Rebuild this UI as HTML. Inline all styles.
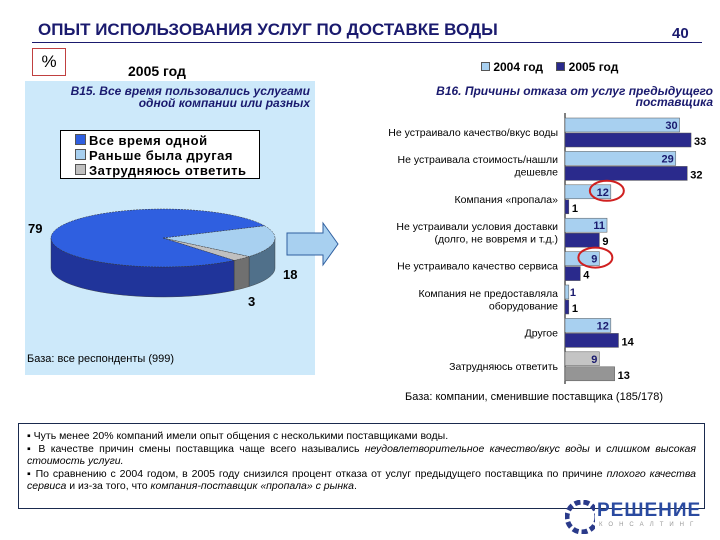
<!DOCTYPE html>
<html><head><meta charset="utf-8">
<style>
body{margin:0;width:720px;height:540px;background:#fff;overflow:hidden;font-family:"Liberation Sans",sans-serif;position:relative}
.abs{position:absolute}
</style></head><body>
<div class="abs" style="left:38px;top:20px;font-size:17px;font-weight:bold;color:#1a1a6e;">ОПЫТ ИСПОЛЬЗОВАНИЯ УСЛУГ ПО ДОСТАВКЕ ВОДЫ</div>
<div class="abs" style="left:672px;top:25px;font-size:15px;font-weight:bold;color:#1a1a6e;">40</div>
<div class="abs" style="left:32px;top:42px;width:670px;height:1px;background:#1a1a6e"></div>
<div class="abs" style="left:32px;top:48px;width:32px;height:26px;border:1px solid #c04040;font-size:17px;text-align:center;line-height:26px">%</div>
<div class="abs" style="left:128px;top:63px;font-size:14px;font-weight:bold">2005 год</div>
<div class="abs" style="left:25px;top:81px;width:290px;height:294px;background:#cde9fa"></div>
<div class="abs" style="left:30px;top:85px;width:280px;font-size:12px;font-weight:bold;font-style:italic;color:#1a1a6e;text-align:right;line-height:12px">В15. Все время пользовались услугами<br>одной компании или разных</div>
<div class="abs" style="left:60px;top:130px;width:200px;height:49px;background:#fff;border:1px solid #000;font-size:13px;font-weight:bold;line-height:15px;padding:2px 0 0 14px;box-sizing:border-box;letter-spacing:0.5px">
<div><span style="display:inline-block;width:9px;height:9px;background:#2f5fe0;border:1px solid #555;margin-right:3px"></span>Все время одной</div>
<div><span style="display:inline-block;width:9px;height:9px;background:#a8d0f0;border:1px solid #555;margin-right:3px"></span>Раньше была другая</div>
<div><span style="display:inline-block;width:9px;height:9px;background:#c0c0c0;border:1px solid #555;margin-right:3px"></span>Затрудняюсь ответить</div>
</div>
<div class="abs" style="left:27px;top:353px;font-size:11px">База: все респонденты (999)</div>

<svg class="abs" style="left:0;top:0" width="720" height="540">
<g id="pie"></g>
<polygon points="287,233 323,233 323,223 338,244 323,265 323,255 287,255" fill="#a8d0f0" stroke="#3060a0" stroke-width="1"/>
<g id="bars"></g>
</svg>

<div class="abs" style="left:481px;top:60px;font-size:12px;font-weight:bold">
<span style="display:inline-block;width:7px;height:7px;background:#a8d0f0;border:1px solid #555"></span> 2004 год &nbsp;&nbsp;&nbsp;<span style="display:inline-block;width:7px;height:7px;background:#2a2a8c;border:1px solid #555"></span> 2005 год</div>
<div class="abs" style="left:380px;top:86px;width:333px;font-size:12px;font-weight:bold;font-style:italic;color:#1a1a6e;text-align:right;line-height:11px">В16. Причины отказа от услуг предыдущего<br>поставщика</div>
<div class="abs" style="left:405px;top:391px;font-size:11px">База: компании, сменившие поставщика (185/178)</div>

<div class="abs" style="left:18px;top:423px;width:687px;height:86px;border:1px solid #1a2a4e;box-sizing:border-box;padding:6px 8px;font-size:10.5px;line-height:12.5px;text-align:justify">
▪ Чуть менее 20% компаний имели опыт общения с несколькими поставщиками воды.<br>
▪ В качестве причин смены поставщика чаще всего назывались <i>неудовлетворительное качество/вкус воды</i> и <i>слишком высокая стоимость услуги.</i><br>
▪ По сравнению с 2004 годом, в 2005 году снизился процент отказа от услуг предыдущего поставщика по причине <i>плохого качества сервиса</i> и из-за того, что <i>компания-поставщик «пропала» с рынка</i>.
</div>
<div class="abs" style="left:565px;top:500px;">
<svg width="30" height="34" style="position:absolute;left:0;top:0"><circle cx="17" cy="17" r="15" fill="none" stroke="#2a3a8a" stroke-width="5" stroke-dasharray="6 3"/></svg>
<div style="position:absolute;left:32px;top:0;font-size:19px;font-weight:bold;color:#2a4aa0;letter-spacing:1px">РЕШЕНИЕ</div>
<div style="position:absolute;left:34px;top:22px;font-size:6px;color:#999;letter-spacing:6px;white-space:nowrap">КОНСАЛТИНГ</div>
</div>

<script>
const pieLabels=["Все время одной","Раньше была другая","Затрудняюсь ответить"];
const pieValues=[79,18,3];
const categories=["Не устраивало качество/вкус воды","Не устраивала стоимость/нашли|дешевле","Компания «пропала»","Не устраивали условия доставки|(долго, не вовремя и т.д.)","Не устраивало качество сервиса","Компания не предоставляла|оборудование","Другое","Затрудняюсь ответить"];
const values2004=[30,29,12,11,9,1,12,9];
const values2005=[33,32,1,9,4,1,14,13];
const NS="http://www.w3.org/2000/svg";
function mk(t,a,p){const e=document.createElementNS(NS,t);for(const k in a)e.setAttribute(k,a[k]);p.appendChild(e);return e;}
// pie
const pg=document.getElementById('pie');
const cx=163,cy=238,rx=112,ry=29,dep=30;
const topC=["#2f5fe0","#a8d0f0","#c0c0c0"],sideC=["#20349a","#50708a","#707070"];
const order=[1,2,0];
const tot=pieValues.reduce((a,b)=>a+b,0);
let a=-25*Math.PI/180;const angs=[];
order.forEach(i=>{const s=a;a+=pieValues[i]/tot*2*Math.PI;angs.push([i,s,a]);});
function P(t,dy){return [cx+rx*Math.cos(t),cy+ry*Math.sin(t)+(dy||0)];}
// sides (front half 0..PI, and wraps)
angs.forEach(([i,s,e])=>{
 for(let k=-1;k<=1;k++){const lo=Math.max(s,k*2*Math.PI),hi=Math.min(e,k*2*Math.PI+Math.PI);
  if(hi>lo){let d="";const n=30;for(let j=0;j<=n;j++){const t=lo+(hi-lo)*j/n;const p=P(t);d+=(j?"L":"M")+p[0]+","+p[1];}
   for(let j=n;j>=0;j--){const t=lo+(hi-lo)*j/n;const p=P(t,dep);d+="L"+p[0]+","+p[1];}
   const el=mk('path',{d:d+"Z",fill:sideC[i],stroke:"#333","stroke-width":0.4},pg);
   }}
});
angs.forEach(([i,s,e])=>{const p1=P(s),p2=P(e);const large=(e-s)>Math.PI?1:0;
 const el=mk('path',{d:`M${cx},${cy}L${p1[0]},${p1[1]}A${rx},${ry} 0 ${large} 1 ${p2[0]},${p2[1]}Z`,fill:topC[i],stroke:"#333","stroke-width":0.5,"stroke-dasharray":"2 1"},pg);
 });
const pl=[[28,233],[283,279],[248,306]];
pieValues.forEach((v,i)=>{const t=mk('text',{x:pl[i][0],y:pl[i][1],"font-size":13,"font-weight":"bold","font-family":"Liberation Sans"},pg);t.textContent=v;
 });
// bars
const bg=document.getElementById('bars');
const x0=565,sc=3.82,top0=118,step=33.4,bh=14;
const ax=mk('line',{x1:x0,y1:113,x2:x0,y2:384,stroke:"#000","stroke-width":1},bg);

categories.forEach((c,i)=>{
 const y=top0+i*step;const gray=i===categories.length-1;
 const b1=mk('rect',{x:x0,y:y,width:values2004[i]*sc,height:bh,fill:gray?"#c4c4c4":"#a8d0f0",stroke:"#555","stroke-width":0.5},bg);
 
 const b2=mk('rect',{x:x0,y:y+bh+1,width:values2005[i]*sc,height:bh,fill:gray?"#959595":"#2a2a8c",stroke:"#555","stroke-width":0.5},bg);
 
 const t1=mk('text',{x:x0+values2004[i]*sc-2,y:y+11,"text-anchor":"end","font-size":11,"font-weight":"bold",fill:"#1a1a6e","font-family":"Liberation Sans"},bg);
 if(values2004[i]*sc<12){t1.setAttribute('x',x0+values2004[i]*sc+1);t1.setAttribute('text-anchor','start');}
 t1.textContent=values2004[i];
 const t2=mk('text',{x:x0+values2005[i]*sc+3,y:y+bh+13,"font-size":11,"font-weight":"bold","font-family":"Liberation Sans"},bg);
 t2.textContent=values2005[i];
 const lines=c.split('|');const cyl=y+bh+4;
 lines.forEach((ln,j)=>{const t=mk('text',{x:558,y:cyl+(j-(lines.length-1)/2)*12.5,"text-anchor":"end","font-size":10.5,"font-family":"Liberation Sans"},bg);t.textContent=ln;
  });
});
[[2,values2004[2]],[4,values2004[4]]].forEach(([i,v])=>{const y=top0+i*step+6;const e=mk('ellipse',{cx:x0+v*sc-4,cy:y,rx:17,ry:10,fill:"none",stroke:"#d02020","stroke-width":2},bg);
 });
</script>
</body></html>
